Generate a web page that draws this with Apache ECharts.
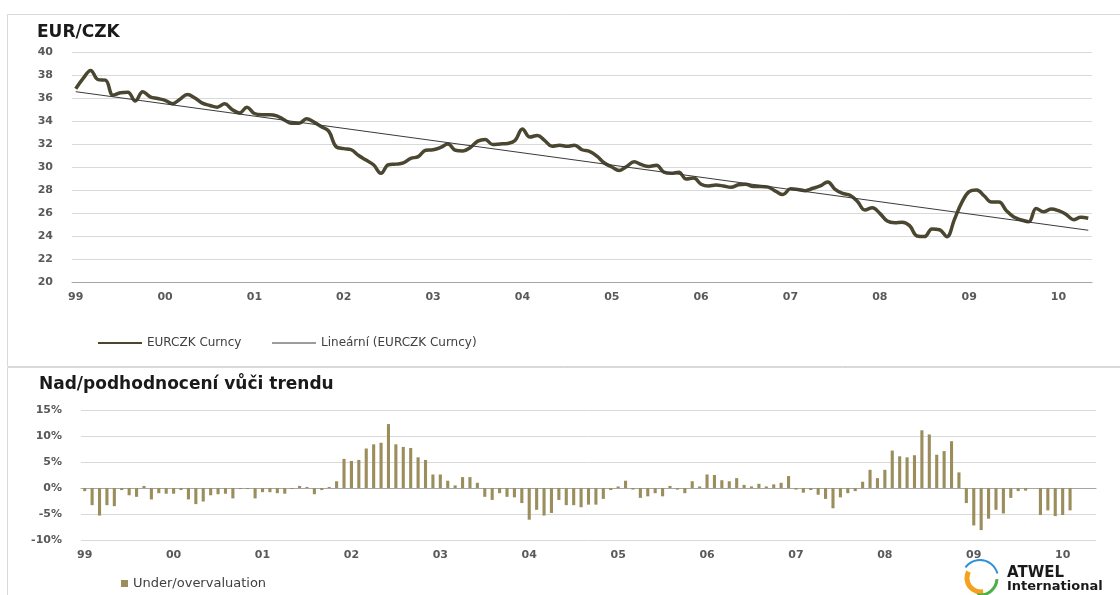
<!DOCTYPE html>
<html>
<head>
<meta charset="utf-8">
<title>EUR/CZK</title>
<script src="https://cdn.jsdelivr.net/npm/echarts@6/dist/echarts.min.js"></script>
<style>
  html, body { margin: 0; padding: 0; background: #fff; }
  #chart { width: 1120px; height: 595px; }
</style>
</head>
<body>
<div id="chart"></div>
<script>
// year labels on the x axis (one per January)
const yearLabels = ['99', '00', '01', '02', '03', '04', '05', '06', '07', '08', '09', '10'];

// EUR/CZK monthly, Jan 1999 - May 2010
const eurczk = [
  36.8, 37.7, 38.4, 37.6, 37.55, 36.25, 36.45, 36.5, 35.75, 36.55, 36.1, 35.95,
  35.8, 35.5, 35.9, 36.3, 36.0, 35.55, 35.35, 35.2, 35.5, 35.0, 34.7, 35.2,
  34.65, 34.55, 34.55, 34.45, 34.1, 33.8, 33.8, 34.2, 33.9, 33.5, 33.1, 31.75,
  31.6, 31.5, 31.0, 30.6, 30.2, 29.45, 30.2, 30.25, 30.35, 30.75, 30.9, 31.45,
  31.5, 31.7, 32.0, 31.45, 31.4, 31.7, 32.25, 32.4, 31.95, 32.0, 32.05, 32.3,
  33.3, 32.6, 32.75, 32.3, 31.8, 31.9, 31.8, 31.9, 31.5, 31.35, 30.95, 30.35,
  30.0, 29.7, 30.05, 30.45, 30.2, 30.05, 30.15, 29.55, 29.45, 29.55, 28.96, 29.05,
  28.5, 28.35, 28.43, 28.35, 28.23, 28.45, 28.5, 28.3, 28.3, 28.25, 27.9, 27.6,
  28.1, 28.05, 27.94, 28.15, 28.35, 28.7, 28.05, 27.7, 27.55, 27.0, 26.26, 26.45,
  25.97, 25.3, 25.15, 25.2, 24.9, 24.0, 23.95, 24.6, 24.55, 23.94, 25.4, 26.9,
  27.85, 28.0, 27.5, 26.95, 26.95, 26.2, 25.65, 25.4, 25.24, 26.4, 26.1, 26.35,
  26.2, 25.9, 25.42, 25.62, 25.54
];

// linear trend (Excel trendline), value at first and last month
const trendEnds = [36.55, 24.5];

// over/undervaluation vs trend in %, Jan 1999 - Feb 2010
const deviation = [
  -0.6, -3.3, -5.3, -3.3, -3.5, -0.4, -1.4, -1.7, 0.4, -2.2, -1.0, -1.1,
  -1.1, -0.4, -2.2, -3.1, -2.6, -1.4, -1.2, -1.1, -2.0, -0.2, -0.2, -2.0,
  -0.8, -0.8, -1.0, -1.1, -0.2, 0.4, 0.2, -1.2, -0.4, 0.2, 1.3, 5.6,
  5.2, 5.4, 7.6, 8.4, 8.7, 12.3, 8.4, 7.9, 7.7, 5.9, 5.4, 2.6,
  2.6, 1.4, 0.5, 2.1, 2.1, 1.0, -1.7, -2.3, -1.0, -1.7, -1.8, -2.9,
  -6.1, -4.2, -5.3, -4.8, -2.3, -3.3, -3.3, -3.7, -3.2, -3.2, -2.1, -0.4,
  0.3, 1.4, -0.3, -1.9, -1.6, -1.0, -1.6, 0.4, -0.3, -1.0, 1.3, 0.3,
  2.6, 2.5, 1.5, 1.3, 1.9, 0.6, 0.3, 0.8, 0.3, 0.7, 1.0, 2.3,
  -0.3, -0.9, -0.4, -1.3, -2.1, -3.9, -1.8, -1.0, -0.6, 1.2, 3.5, 1.9,
  3.5, 7.2, 6.1, 5.9, 6.3, 11.1, 10.3, 6.4, 7.1, 9.0, 3.0, -2.9,
  -7.2, -8.1, -5.9, -4.2, -4.9, -1.9, -0.6, -0.5, null, -5.2, -4.3, -5.4,
  -5.2, -4.3
];

// month categories built from the year labels
const months = [];
yearLabels.forEach(y => {
  for (let m = 1; m <= 12; m++) months.push(y + '-' + (m < 10 ? '0' + m : m));
});
months.length = eurczk.length;

const FONT = 'DejaVu Sans';
const labelStyle = { color: '#595959', fontSize: 11, fontWeight: 'bold', fontFamily: FONT };
const gridLine = { lineStyle: { color: '#d9d9d9', width: 1 } };

const chart = echarts.init(document.getElementById('chart'));

chart.setOption({
  animation: false,
  backgroundColor: '#fff',
  title: [
    { text: 'EUR/CZK', left: 37, top: 24, padding: 0,
      textStyle: { fontSize: 17, fontWeight: 'bold', color: '#1a1a1a', fontFamily: FONT } },
    { text: 'Nad/podhodnocení vůči trendu', left: 39, top: 376, padding: 0,
      textStyle: { fontSize: 17, fontWeight: 'bold', color: '#1a1a1a', fontFamily: FONT } }
  ],
  legend: [
    {
      left: 97, top: 337, padding: 0,
      itemWidth: 44, itemHeight: 8, itemGap: 30,
      textStyle: { color: '#404040', fontSize: 12, fontFamily: FONT },
      data: [
        { name: 'EURCZK Curncy', itemStyle: { opacity: 0 },
          lineStyle: { color: '#4a4630', width: 2 } },
        { name: 'Lineární (EURCZK Curncy)', itemStyle: { opacity: 0 },
          lineStyle: { color: '#3a3a3a', width: 1.2 } }
      ]
    },
    {
      left: 121, top: 577, padding: 0,
      icon: 'rect', itemWidth: 7, itemHeight: 7,
      textStyle: { color: '#404040', fontSize: 13, fontFamily: FONT },
      data: ['Under/overvaluation']
    }
  ],
  grid: [
    { left: 72, right: 28, top: 52, bottom: 313 },
    { left: 81, right: 24, top: 410, bottom: 55 }
  ],
  xAxis: [
    {
      gridIndex: 0, type: 'category', data: months, boundaryGap: true,
      axisLine: { lineStyle: { color: '#a6a6a6' } },
      axisTick: { interval: 11, length: 4, lineStyle: { color: '#a6a6a6' } },
      axisLabel: Object.assign({ interval: 11, margin: 10, formatter: v => v.slice(0, 2) }, labelStyle),
      splitLine: { show: false }
    },
    {
      // zero line with ticks
      gridIndex: 1, type: 'category', data: months, boundaryGap: true,
      position: 'bottom',
      axisLine: { onZero: true, lineStyle: { color: '#a6a6a6' } },
      axisTick: { interval: 11, length: 3, lineStyle: { color: '#a6a6a6' } },
      axisLabel: { show: false },
      splitLine: { show: false }
    },
    {
      // year labels under the plot
      gridIndex: 1, type: 'category', data: months, boundaryGap: true,
      position: 'bottom',
      axisLine: { show: false, onZero: false },
      axisTick: { show: false },
      axisLabel: Object.assign({ interval: 11, margin: 10, formatter: v => v.slice(0, 2) }, labelStyle),
      splitLine: { show: false }
    }
  ],
  yAxis: [
    {
      gridIndex: 0, type: 'value', min: 20, max: 40, interval: 2,
      axisLine: { show: false }, axisTick: { show: false },
      axisLabel: Object.assign({ margin: 19 }, labelStyle),
      splitLine: gridLine
    },
    {
      gridIndex: 1, type: 'value', min: -10, max: 15, interval: 5,
      axisLine: { show: false }, axisTick: { show: false },
      axisLabel: Object.assign({ margin: 19, formatter: '{value}%' }, labelStyle),
      splitLine: gridLine
    }
  ],
  graphic: [
    { type: 'rect', z: -10, silent: true,
      shape: { x: 7.5, y: 14.5, width: 1130, height: 352 },
      style: { fill: 'none', stroke: '#d9d9d9', lineWidth: 1 } },
    { type: 'rect', z: -10, silent: true,
      shape: { x: 7.5, y: 367.5, width: 1130, height: 260 },
      style: { fill: 'none', stroke: '#d9d9d9', lineWidth: 1 } },
    // ATWEL logo
    { type: 'arc', silent: true,
      shape: { cx: 980, cy: 578, r: 18, startAngle: Math.PI * 1.2, endAngle: Math.PI * 1.92 },
      style: { stroke: '#2f8fd8', lineWidth: 2, fill: 'none' } },
    { type: 'arc', silent: true,
      shape: { cx: 981, cy: 578, r: 14, startAngle: Math.PI * 0.45, endAngle: Math.PI * 1.15 },
      style: { stroke: '#f4a21d', lineWidth: 5, fill: 'none' } },
    { type: 'arc', silent: true,
      shape: { cx: 980, cy: 578, r: 17, startAngle: Math.PI * 0.02, endAngle: Math.PI * 0.55 },
      style: { stroke: '#4bb04a', lineWidth: 3, fill: 'none' } },
    { type: 'text', left: 1007, top: 566, silent: true,
      style: { text: 'ATWEL', font: 'bold 15px "DejaVu Sans"', fill: '#1a1a1a' } },
    { type: 'text', left: 1007, top: 580, silent: true,
      style: { text: 'International', font: 'bold 13px "DejaVu Sans"', fill: '#1a1a1a' } }
  ],
  series: [
    {
      name: 'EURCZK Curncy', type: 'line',
      xAxisIndex: 0, yAxisIndex: 0,
      data: eurczk, smooth: 0.4, symbol: 'none',
      color: '#4a4630',
      lineStyle: { color: '#4a4630', width: 3.5 },
      z: 3
    },
    {
      name: 'Lineární (EURCZK Curncy)', type: 'line',
      xAxisIndex: 0, yAxisIndex: 0,
      data: [[months[0], trendEnds[0]], [months[months.length - 1], trendEnds[1]]],
      symbol: 'none',
      color: '#3a3a3a',
      lineStyle: { color: '#3a3a3a', width: 1 },
      z: 4
    },
    {
      name: 'Under/overvaluation', type: 'bar',
      xAxisIndex: 1, yAxisIndex: 1,
      data: deviation, barWidth: '42%',
      itemStyle: { color: '#9b8e5c' }
    }
  ]
});
</script>
</body>
</html>
